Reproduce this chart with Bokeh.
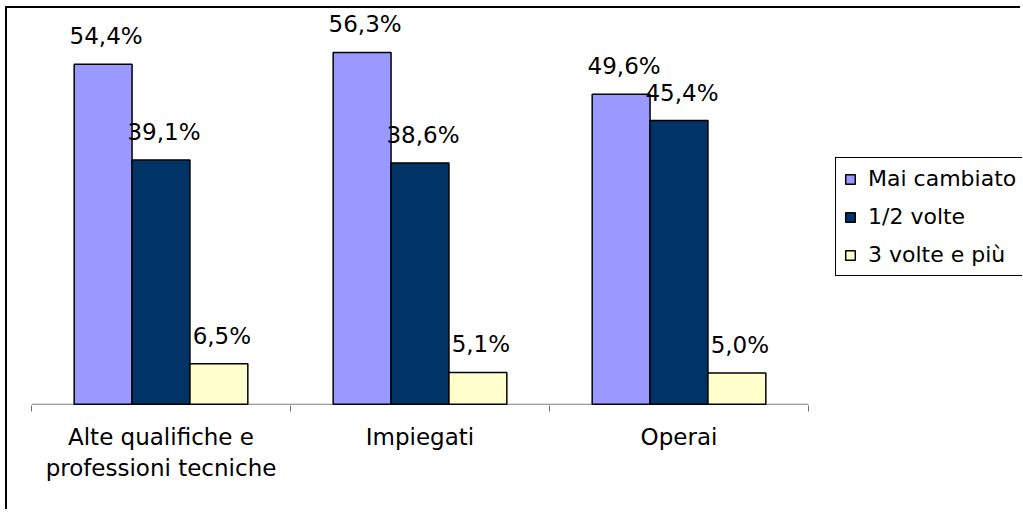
from bokeh.plotting import figure
from bokeh.models import (Range1d, FixedTicker, ColumnDataSource, Legend,
                          LegendItem, LabelSet)
from bokeh.core.properties import value
from bokeh.transform import dodge
from bokeh.embed import file_html
from bokeh.resources import INLINE

# ---- data ----
categories = ["Alte qualifiche e\nprofessioni tecniche", "Impiegati", "Operai"]
series = ["Mai cambiato", "1/2 volte", "3 volte e più"]
mai_cambiato = [54.4, 56.3, 49.6]
una_due_volte = [39.1, 38.6, 45.4]
tre_volte_e_piu = [6.5, 5.1, 5.0]
colors = ["#9999FF", "#003366", "#FFFFCC"]


def fmt(v):
    return f"{v:.1f}%".replace(".", ",")


n = len(categories)
xs = [i + 0.5 for i in range(n)]
src = ColumnDataSource(dict(
    x=xs,
    s0=mai_cambiato, s1=una_due_volte, s2=tre_volte_e_piu,
    l0=[fmt(v) for v in mai_cambiato],
    l1=[fmt(v) for v in una_due_volte],
    l2=[fmt(v) for v in tre_volte_e_piu],
))

# layout (pixels)
W, H = 1015, 503
LEFT, TOP, BOTTOM = 24, 4, 106
PLOT_W = 777                       # width used by the categories
frame_w = W - LEFT
x_end = n * frame_w / PLOT_W       # frame continues to the right for the legend

p = figure(width=W, height=H, output_backend="svg", toolbar_location=None,
           x_range=Range1d(0, x_end), y_range=Range1d(-0.2, 62.7),
           min_border_left=LEFT, min_border_right=0, min_border_top=TOP,
           min_border_bottom=BOTTOM)
p.styles = {"border-left": "2px solid black", "border-top": "2px solid black",
            "margin-left": "5px", "margin-top": "6px"}
p.outline_line_color = None
p.background_fill_color = "white"
p.border_fill_color = "white"
p.xgrid.visible = False
p.ygrid.visible = False
p.yaxis.visible = False

FONT = "DejaVu Sans"
bw = 0.2235
offsets = [-bw, 0.0, bw]

# category axis line (only under the categories)
p.segment(x0=[0], y0=[0], x1=[n], y1=[0], line_color="#808080", line_width=1)

renderers = []
for k, (name, c) in enumerate(zip(series, colors)):
    r = p.vbar(x=dodge("x", offsets[k], range=p.x_range), top=f"s{k}", bottom=0,
               width=bw, source=src, fill_color=c, line_color="black",
               line_width=1.5)
    renderers.append(r)
    labels = LabelSet(x=dodge("x", offsets[k], range=p.x_range), y=f"s{k}",
                      text=f"l{k}", source=src, x_offset=3, y_offset=20,
                      text_align="center", text_baseline="alphabetic",
                      text_font=value(FONT), text_font_size=value("23px"),
                      text_color="black")
    p.add_layout(labels)

ax = p.xaxis[0]
ax.ticker = FixedTicker(ticks=xs, minor_ticks=list(range(n + 1)))
ax.major_label_overrides = {x: c for x, c in zip(xs, categories)}
ax.axis_line_color = None
ax.major_tick_line_color = None
ax.major_tick_in = 0
ax.major_tick_out = 6
ax.minor_tick_in = 0
ax.minor_tick_out = 6
ax.minor_tick_line_color = "#707070"
ax.major_label_standoff = 12
ax.major_label_text_font = FONT
ax.major_label_text_font_size = "23px"
ax.major_label_text_color = "black"

legend = Legend(
    items=[LegendItem(label=s, renderers=[r]) for s, r in zip(series, renderers)],
    location=(PLOT_W + 27, 129), orientation="vertical",
    border_line_color="black", border_line_width=1, border_line_alpha=1,
    background_fill_color="white", background_fill_alpha=1,
    padding=8, spacing=13, margin=0,
    glyph_width=12, glyph_height=12, label_standoff=12, label_width=165,
    label_text_font=FONT, label_text_font_size="22px", label_text_color="black",
)
p.add_layout(legend)

open("out.html", "w").write(file_html(p, INLINE))
